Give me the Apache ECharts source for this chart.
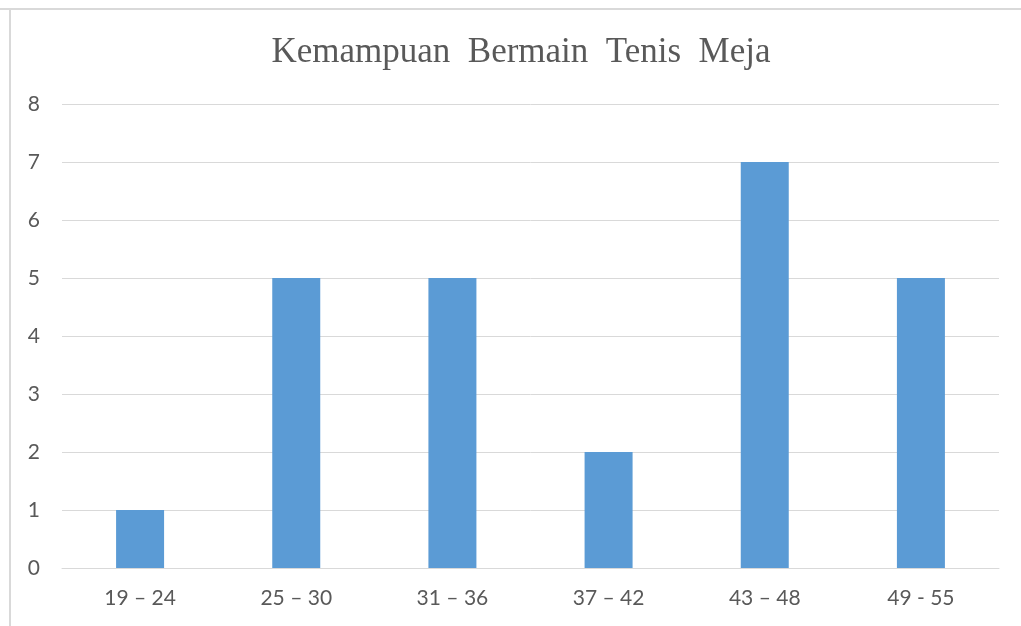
<!DOCTYPE html>
<html><head><meta charset="utf-8">
<script src="https://cdn.jsdelivr.net/npm/echarts@6/dist/echarts.min.js"></script>
<style>html,body{margin:0;padding:0;background:#fff}#c{width:1021px;height:626px}</style>
</head><body><div id="c"></div>
<script>
const titleText = 'Kemampuan  Bermain  Tenis  Meja';
const categories = ['19 – 24', '25 – 30', '31 – 36', '37 – 42', '43 – 48', '49 - 55'];
const values = [1, 5, 5, 2, 7, 5];
const yTicks = [0, 1, 2, 3, 4, 5, 6, 7, 8];

const chart = echarts.init(document.getElementById('c'), null, {renderer: 'canvas'});
chart.setOption({
  backgroundColor: '#ffffff',
  animation: false,
  title: {
    text: titleText,
    left: 516, top: 30, textAlign: 'center',
    textStyle: {fontFamily: 'Liberation Serif', fontSize: 35, fontWeight: 'normal', color: '#595959'}
  },
  graphic: [
    {type: 'line', shape: {x1: 0, y1: 9, x2: 1021, y2: 9}, style: {stroke: '#d9d9d9', lineWidth: 2}, silent: true},
    {type: 'line', shape: {x1: 10, y1: 8, x2: 10, y2: 626}, style: {stroke: '#d9d9d9', lineWidth: 2}, silent: true}
  ],
  grid: {left: 62, right: 22, top: 104, bottom: 58, containLabel: false},
  xAxis: {
    type: 'category', data: categories,
    axisLine: {show: true, lineStyle: {color: '#d9d9d9', width: 1}},
    axisTick: {show: false},
    axisLabel: {color: '#595959', fontFamily: 'Lato', fontSize: 21, margin: 20}
  },
  yAxis: {
    type: 'value', min: yTicks[0], max: yTicks[yTicks.length - 1], interval: 1,
    axisLine: {show: false}, axisTick: {show: false},
    splitLine: {lineStyle: {color: '#d9d9d9', width: 1}},
    axisLabel: {color: '#595959', fontFamily: 'Lato', fontSize: 21, margin: 22}
  },
  series: [{
    type: 'bar', data: values, barWidth: 48,
    itemStyle: {color: '#5b9bd5'}
  }]
});
</script></body></html>
